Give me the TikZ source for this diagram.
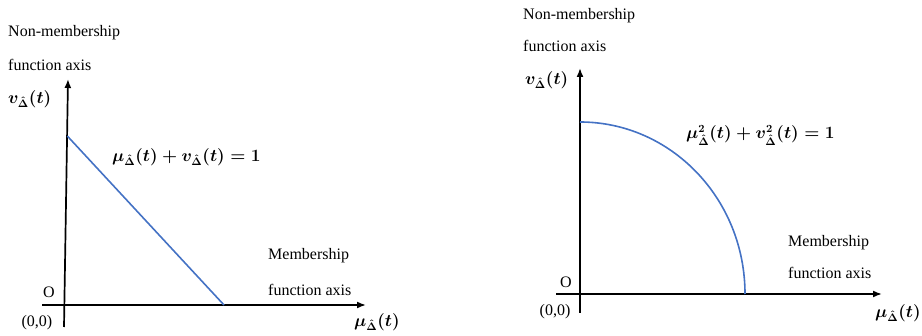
\documentclass[tikz,border=0pt]{standalone}
\usepackage{amsmath,bm}
\usepackage{fontspec}
\setmainfont{Liberation Serif}
\newfontfamily\tnrfont{Liberation Serif}
\usetikzlibrary{arrows.meta}
\definecolor{curveblue}{RGB}{68,114,196}
\tikzset{
  axis/.style={line width=1.7pt, black, -{Latex[length=9pt,width=7pt]}},
  curve/.style={line width=1.6pt, curveblue},
  lbl/.style={font=\tnrfont\fontsize{16}{19}\selectfont, inner sep=0pt, anchor=west},
  mlbl/.style={font=\fontsize{16}{19}\selectfont\boldmath, inner sep=0pt, anchor=west},
  clbl/.style={font=\tnrfont\fontsize{16}{19}\selectfont, inner sep=0pt}
}
\begin{document}
\begin{tikzpicture}[x=1pt,y=-1pt]
\useasboundingbox (0,0) rectangle (922,336);
% ---------- left diagram ----------
\coordinate (LhS) at (42,305);
\coordinate (LhE) at (366,305);
\coordinate (LvS) at (64,327);
\coordinate (LvE) at (68,79);
\coordinate (LlA) at (67.3,136);
\coordinate (LlB) at (224,305);
\draw[axis] (LhS) -- (LhE);
\draw[axis] (LvS) -- (LvE);
\draw[curve] (LlA) -- (LlB);
\node[lbl] (Ln1) at (8,33) {Non-membership};
\node[lbl] (Ln2) at (8,65) {function axis};
\node[mlbl] (Lv) at (8,99) {$v_{\hat{\Delta}}(t)$};
\node[mlbl] (Leq) at (112,157) {$\mu_{\hat{\Delta}}(t)+v_{\hat{\Delta}}(t)=1$};
\node[lbl] (Lm1) at (268,256) {Membership};
\node[lbl] (Lm2) at (268,290) {function axis};
\node[clbl] (LO) at (49,292) {O};
\node[clbl] (Lz) at (37,323) {(0,0)};
\node[mlbl] (Lmu) at (354,322) {$\mu_{\hat{\Delta}}(t)$};
% ---------- right diagram ----------
\coordinate (RhS) at (556,294);
\coordinate (RhE) at (882,294);
\coordinate (RvS) at (580,313);
\coordinate (RvE) at (580,68);
\draw[axis] (RhS) -- (RhE);
\draw[axis] (RvS) -- (RvE);
\draw[curve] (580,122) arc[start angle=90, end angle=0, x radius=165, y radius=-172];
\node[lbl] (Rn1) at (523,16) {Non-membership};
\node[lbl] (Rn2) at (523,46) {function axis};
\node[mlbl] (Rv) at (525,80) {$v_{\hat{\Delta}}(t)$};
\node[mlbl] (Req) at (686,135) {$\mu^2_{\hat{\Delta}}(t)+v^2_{\hat{\Delta}}(t)=1$};
\node[lbl] (Rm1) at (788,243) {Membership};
\node[lbl] (Rm2) at (788,273) {function axis};
\node[clbl] (ROl) at (566,282) {O};
\node[clbl] (Rz) at (555,312) {(0,0)};
\node[mlbl] (Rmu) at (875,313) {$\mu_{\hat{\Delta}}(t)$};
\end{tikzpicture}
\end{document}
